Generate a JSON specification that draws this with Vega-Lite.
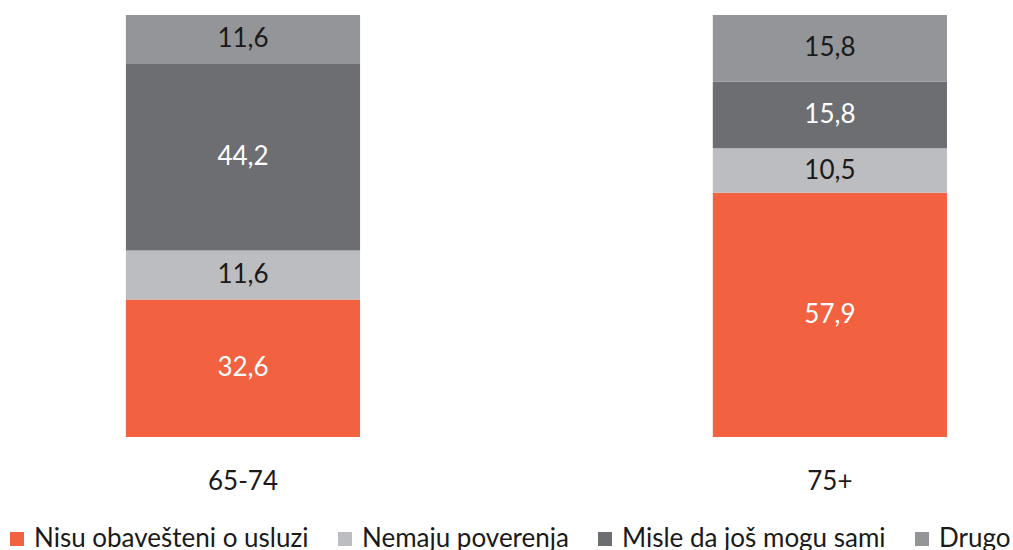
{
  "$schema": "https://vega.github.io/schema/vega-lite/v6.json",
  "width": 1013,
  "height": 422,
  "autosize": {"type": "none"},
  "padding": {"top": 15, "left": 0, "right": 0, "bottom": 113},
  "background": "white",
  "config": {
    "view": {"stroke": null},
    "font": "Lato",
    "locale": {"number": {"decimal": ",", "thousands": ".", "grouping": [3], "currency": ["", ""]}}
  },
  "data": {
    "values": [
      {"grupa": "65-74", "kat": "Nisu obavešteni o usluzi", "k": 1, "v": 32.6},
      {"grupa": "65-74", "kat": "Nemaju poverenja", "k": 2, "v": 11.6},
      {"grupa": "65-74", "kat": "Misle da još mogu sami", "k": 3, "v": 44.2},
      {"grupa": "65-74", "kat": "Drugo", "k": 4, "v": 11.6},
      {"grupa": "75+", "kat": "Nisu obavešteni o usluzi", "k": 1, "v": 57.9},
      {"grupa": "75+", "kat": "Nemaju poverenja", "k": 2, "v": 10.5},
      {"grupa": "75+", "kat": "Misle da još mogu sami", "k": 3, "v": 15.8},
      {"grupa": "75+", "kat": "Drugo", "k": 4, "v": 15.8}
    ]
  },
  "transform": [
    {"stack": "v", "groupby": ["grupa"], "sort": [{"field": "k", "order": "ascending"}], "as": ["y0", "y1"]},
    {"calculate": "(datum.y0 + datum.y1) / 2", "as": "ym"}
  ],
  "encoding": {
    "x": {
      "field": "grupa",
      "type": "nominal",
      "sort": ["65-74", "75+"],
      "scale": {"paddingInner": 0.601, "paddingOuter": 0.1635, "align": 0.656},
      "axis": {
        "title": null,
        "domain": false,
        "ticks": false,
        "labelAngle": 0,
        "labelFontSize": 26,
        "labelColor": "#1a1a1a",
        "labelPadding": 31,
        "labelFont": "Lato"
      }
    }
  },
  "layer": [
    {
      "mark": {"type": "bar"},
      "encoding": {
        "y": {"field": "y0", "type": "quantitative", "scale": {"domain": [0, 100], "nice": false}, "axis": null},
        "y2": {"field": "y1"},
        "color": {
          "field": "kat",
          "type": "nominal",
          "scale": {
            "domain": ["Nisu obavešteni o usluzi", "Nemaju poverenja", "Misle da još mogu sami", "Drugo"],
            "range": ["#F26140", "#BCBDC0", "#6D6E71", "#939598"]
          },
          "legend": {
            "title": null,
            "orient": "none",
            "legendX": 4,
            "legendY": 511,
            "padding": 0,
            "direction": "horizontal",
            "symbolType": "square",
            "symbolSize": 196,
            "symbolStrokeWidth": 0,
            "labelFontSize": 26,
            "labelFont": "Lato",
            "labelColor": "#1a1a1a",
            "labelOffset": 4,
            "columnPadding": 23,
            "labelLimit": 400
          }
        }
      }
    },
    {
      "mark": {"type": "text", "fontSize": 26, "font": "Lato", "baseline": "middle", "align": "center"},
      "encoding": {
        "y": {"field": "ym", "type": "quantitative"},
        "text": {"field": "v", "type": "quantitative", "format": ".1f"},
        "color": {
          "condition": {"test": "datum.k == 1 || datum.k == 3", "value": "#ffffff"},
          "value": "#1a1a1a"
        }
      }
    }
  ]
}
